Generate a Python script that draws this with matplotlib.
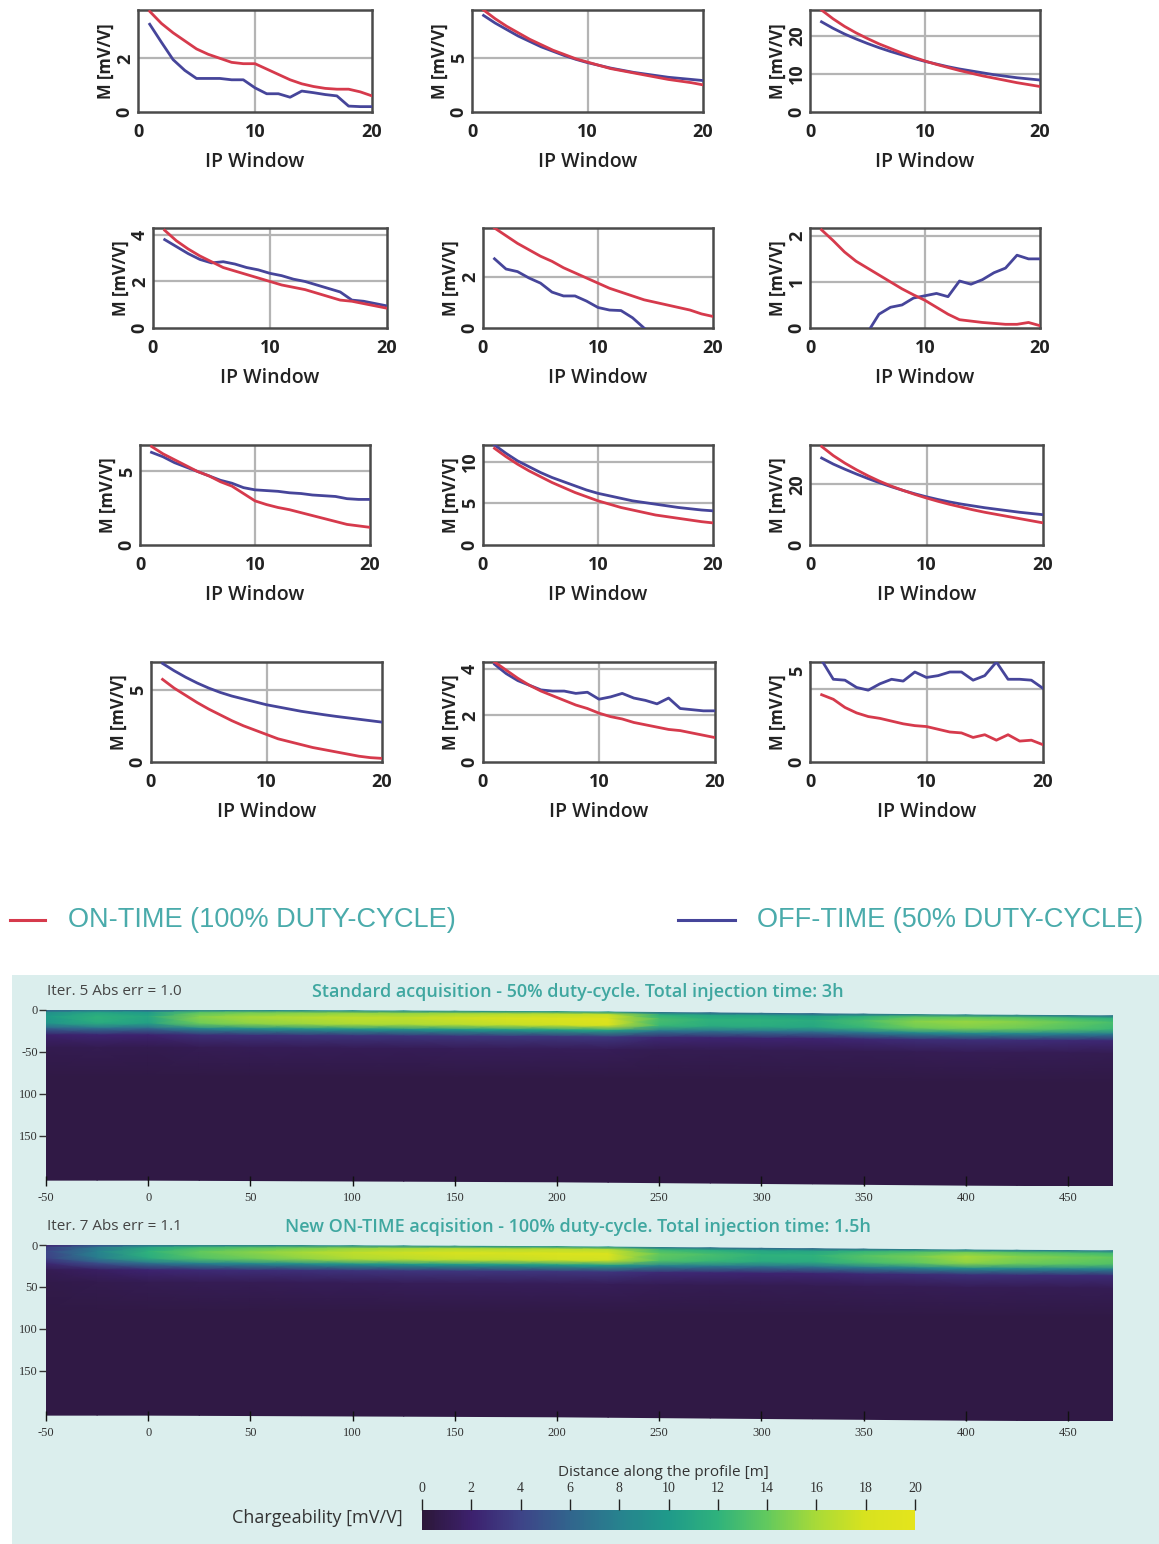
import numpy as np
import matplotlib
matplotlib.use("Agg")
import matplotlib.pyplot as plt
from matplotlib.colors import LinearSegmentedColormap
from matplotlib.patches import Rectangle

# ---------------- data ----------------
ip_window = list(range(1, 21))

# row 1
on_11 = [3.75, 3.3, 2.95, 2.65, 2.35, 2.15, 2.0, 1.85, 1.8, 1.8, 1.6, 1.4, 1.2, 1.05, 0.95, 0.88, 0.85, 0.85, 0.75, 0.6]
off_11 = [3.27, 2.6, 1.95, 1.55, 1.25, 1.25, 1.25, 1.2, 1.2, 0.9, 0.68, 0.68, 0.55, 0.78, 0.72, 0.65, 0.6, 0.22, 0.2, 0.2]
on_12 = [9.4, 8.6, 7.9, 7.3, 6.7, 6.2, 5.7, 5.3, 4.9, 4.6, 4.3, 4.0, 3.8, 3.6, 3.4, 3.2, 3.0, 2.85, 2.7, 2.5]
off_12 = [8.9, 8.2, 7.6, 7.0, 6.5, 6.0, 5.6, 5.2, 4.85, 4.55, 4.3, 4.05, 3.85, 3.65, 3.5, 3.35, 3.2, 3.1, 3.0, 2.9]
on_13 = [26.8, 24.5, 22.5, 20.8, 19.3, 17.9, 16.7, 15.5, 14.4, 13.4, 12.5, 11.7, 10.9, 10.2, 9.5, 8.9, 8.3, 7.7, 7.2, 6.7]
off_13 = [23.7, 22.0, 20.5, 19.2, 18.0, 16.9, 15.9, 15.0, 14.1, 13.3, 12.6, 11.9, 11.3, 10.8, 10.3, 9.8, 9.4, 9.0, 8.7, 8.4]
# row 2
on_21 = [4.2, 3.75, 3.4, 3.1, 2.85, 2.6, 2.45, 2.3, 2.15, 2.0, 1.85, 1.75, 1.65, 1.5, 1.35, 1.2, 1.15, 1.05, 0.95, 0.85]
off_21 = [3.8, 3.5, 3.2, 2.95, 2.8, 2.85, 2.75, 2.6, 2.5, 2.35, 2.25, 2.1, 2.0, 1.85, 1.7, 1.55, 1.2, 1.15, 1.05, 0.95]
on_22 = [3.9, 3.6, 3.3, 3.05, 2.8, 2.6, 2.35, 2.15, 1.95, 1.75, 1.55, 1.4, 1.25, 1.1, 1.0, 0.9, 0.8, 0.7, 0.55, 0.45]
off_22 = [2.7, 2.3, 2.2, 1.95, 1.75, 1.4, 1.25, 1.25, 1.05, 0.8, 0.7, 0.68, 0.4, 0.0, -0.4, -0.6, -0.8, -1.0, -1.1, -1.2]
on_23 = [2.13, 1.9, 1.65, 1.45, 1.3, 1.15, 1.0, 0.85, 0.72, 0.6, 0.45, 0.3, 0.18, 0.15, 0.12, 0.1, 0.08, 0.08, 0.12, 0.05]
off_23 = [-1.0, -0.8, -0.6, -0.4, -0.1, 0.3, 0.45, 0.5, 0.65, 0.7, 0.75, 0.68, 1.02, 0.95, 1.05, 1.2, 1.3, 1.58, 1.5, 1.5]
# row 3
on_31 = [6.7, 6.2, 5.8, 5.4, 5.0, 4.7, 4.3, 4.0, 3.5, 3.0, 2.75, 2.55, 2.4, 2.2, 2.0, 1.8, 1.6, 1.4, 1.3, 1.2]
off_31 = [6.3, 6.0, 5.6, 5.3, 5.0, 4.7, 4.4, 4.2, 3.9, 3.75, 3.7, 3.65, 3.55, 3.5, 3.4, 3.35, 3.3, 3.15, 3.1, 3.1]
on_32 = [11.6, 10.6, 9.7, 8.9, 8.2, 7.5, 6.9, 6.3, 5.8, 5.3, 4.9, 4.5, 4.2, 3.9, 3.6, 3.4, 3.2, 3.0, 2.8, 2.65]
off_32 = [12.0, 11.0, 10.1, 9.4, 8.7, 8.1, 7.6, 7.1, 6.6, 6.2, 5.9, 5.6, 5.3, 5.1, 4.9, 4.7, 4.5, 4.35, 4.2, 4.1]
on_33 = [32.5, 29.5, 27.0, 24.8, 22.8, 21.0, 19.4, 18.0, 16.7, 15.5, 14.4, 13.4, 12.5, 11.6, 10.8, 10.1, 9.4, 8.7, 8.0, 7.3]
off_33 = [28.7, 26.7, 25.0, 23.4, 21.9, 20.5, 19.2, 18.0, 16.9, 15.9, 15.0, 14.2, 13.5, 12.9, 12.3, 11.8, 11.3, 10.8, 10.4, 10.0]
# row 4
on_41 = [5.7, 5.1, 4.6, 4.1, 3.65, 3.25, 2.85, 2.5, 2.2, 1.9, 1.6, 1.4, 1.2, 1.0, 0.85, 0.7, 0.55, 0.4, 0.3, 0.25]
off_41 = [6.8, 6.3, 5.85, 5.45, 5.1, 4.8, 4.55, 4.35, 4.15, 3.95, 3.8, 3.65, 3.5, 3.38, 3.26, 3.15, 3.05, 2.95, 2.85, 2.75]
on_42 = [4.3, 3.95, 3.6, 3.3, 3.05, 2.85, 2.65, 2.45, 2.3, 2.1, 1.95, 1.85, 1.7, 1.6, 1.5, 1.4, 1.35, 1.25, 1.15, 1.05]
off_42 = [4.2, 3.8, 3.5, 3.3, 3.1, 3.05, 3.05, 2.95, 3.0, 2.7, 2.8, 2.95, 2.75, 2.65, 2.5, 2.75, 2.3, 2.25, 2.2, 2.2]
on_43 = [3.7, 3.45, 3.0, 2.7, 2.5, 2.4, 2.25, 2.1, 2.0, 1.95, 1.8, 1.65, 1.6, 1.35, 1.5, 1.2, 1.5, 1.15, 1.2, 0.95]
off_43 = [5.6, 4.55, 4.5, 4.1, 3.95, 4.3, 4.55, 4.45, 4.95, 4.65, 4.75, 4.95, 4.95, 4.5, 4.75, 5.5, 4.55, 4.55, 4.5, 4.05]

on_series = [on_11, on_12, on_13, on_21, on_22, on_23, on_31, on_32, on_33, on_41, on_42, on_43]
off_series = [off_11, off_12, off_13, off_21, off_22, off_23, off_31, off_32, off_33, off_41, off_42, off_43]
y_max = [3.8, 9.4, 26.8, 4.3, 3.9, 2.17, 6.8, 12.0, 33.0, 6.9, 4.3, 5.5]
y_ticks = [[0, 2], [0, 5], [0, 10, 20], [0, 2, 4], [0, 2], [0, 1, 2],
           [0, 5], [0, 5, 10], [0, 20], [0, 5], [0, 2, 4], [0, 5]]
y_grid = [[2], [5], [10, 20], [2, 4], [2], [1, 2],
          [5], [5, 10], [20], [5], [2, 4], [4]]
x_ticks = [0, 10, 20]

# inversion sections
dist = [-50, -25, 0, 25, 50, 75, 100, 125, 150, 175, 200, 225, 250, 275, 300, 325, 350, 375, 400, 425, 450, 472]
surf_std = [10, 12, 11, 15, 16, 16.5, 17, 17, 17.5, 18, 18.5, 19, 13, 12, 12, 11.5, 13, 15, 15.5, 15, 14, 13]
surf_new = [4, 8, 12, 14, 15, 16, 17, 17.5, 18, 18, 18.5, 18.5, 14, 13, 12, 12, 13.5, 14.5, 16, 15, 14.5, 14]
topo_x = [-50, 0, 100, 200, 300, 400, 472]
topo_depth = [0, 0, 1, 2, 4, 6, 7]
depth_nodes = [0, 3, 8, 16, 22, 30, 45, 80, 203]
depth_weight = [0.5, 0.9, 1.0, 0.95, 0.55, 0.15, 0.04, 0.0, 0.0]
background_m = 0.5
cbar_ticks = [0, 2, 4, 6, 8, 10, 12, 14, 16, 18, 20]
dist_ticks = [-50, 0, 50, 100, 150, 200, 250, 300, 350, 400, 450]
depth_ticks = [0, 50, 100, 150]
depth_labels_std = ["0", "-50", "100", "150"]
depth_labels_new = ["0", "50", "100", "150"]

# ---------------- style ----------------
W, H, DPI = 1159, 1544, 100
RED = "#d63a4c"
BLUE = "#46459a"
TEAL = "#4aabab"
FRAME = "#4a4a4a"
GRID = "#b4b4b4"
TXT = "#222222"

fig = plt.figure(figsize=(W / DPI, H / DPI), dpi=DPI)
fig.patch.set_facecolor("white")


def px(x0, y0, x1, y1):
    return [x0 / W, 1 - y1 / H, (x1 - x0) / W, (y1 - y0) / H]


rows_y = [(10, 112), (228, 328), (445, 545), (662, 762)]
cols_x = [[(138, 372), (472, 703), (810, 1040)],
          [(153, 387), (483, 713), (810, 1040)],
          [(140, 370), (483, 713), (810, 1043)],
          [(151, 382), (483, 715), (810, 1043)]]

tick_font = dict(family=["Open Sans", "DejaVu Sans"], weight="bold", size=13)

for i in range(12):
    r, c = divmod(i, 3)
    y0, y1 = rows_y[r]
    x0, x1 = cols_x[r][c]
    ax = fig.add_axes(px(x0, y0, x1, y1))
    ax.axvline(10, color=GRID, lw=1.6, zorder=1)
    for g in y_grid[i]:
        ax.axhline(g, color=GRID, lw=1.6, zorder=1)
    ax.plot(ip_window, off_series[i], color=BLUE, lw=2.0, zorder=3)
    ax.plot(ip_window, on_series[i], color=RED, lw=2.0, zorder=4)
    ax.set_xlim(0, 20)
    ax.set_ylim(0, y_max[i])
    ax.set_xticks(x_ticks)
    ax.set_yticks(y_ticks[i])
    ax.set_xticklabels([str(t) for t in x_ticks], fontdict=tick_font, color=TXT)
    ax.set_yticklabels([str(t) for t in y_ticks[i]], fontdict=tick_font, color=TXT,
                       rotation=90, va="center")
    ax.tick_params(axis="x", length=0, pad=8)
    ax.tick_params(axis="y", length=0, pad=3)
    for s in ax.spines.values():
        s.set_color(FRAME)
        s.set_linewidth(1.8)
    ax.set_xlabel("IP Window", family=["Open Sans", "DejaVu Sans"], weight="semibold",
                  size=14, color=TXT, labelpad=8)
    ax.set_ylabel("M [mV/V]", family=["Open Sans", "DejaVu Sans"], weight="bold",
                  size=12, color=TXT, labelpad=1)

# ---------------- legend ----------------
leg_font = dict(family=["Liberation Sans", "DejaVu Sans"], size=19.5, color=TEAL)
fig.add_artist(plt.Line2D([10 / W, 45 / W], [1 - 920 / H] * 2, color=RED, lw=2.2))
fig.text(68 / W, 1 - 920 / H, "ON-TIME (100% DUTY-CYCLE)", va="center", ha="left", **leg_font)
fig.add_artist(plt.Line2D([678 / W, 735 / W], [1 - 920 / H] * 2, color=BLUE, lw=2.2))
fig.text(757 / W, 1 - 920 / H, "OFF-TIME (50% DUTY-CYCLE)", va="center", ha="left", **leg_font)

# ---------------- bottom panel ----------------
fig.add_artist(Rectangle((12 / W, 0), 1 - 12 / W, 1 - 975 / H, transform=fig.transFigure,
                         facecolor="#dbeeed", edgecolor="none", zorder=0))

cmap = LinearSegmentedColormap.from_list(
    "charge", ["#2c1739", "#3d216e", "#3e4488", "#31658d", "#27828e", "#1f9a8a",
               "#2fb27c", "#62c95e", "#a8da38", "#d8e21f", "#e4e41c"])

dist_a = np.array(dist, dtype=float)
topo = np.interp(dist_a, topo_x, topo_depth)
Xg, Zg = np.meshgrid(dist_a, np.array(depth_nodes, dtype=float))
Zg = Zg + topo[None, :]
serif = dict(family=["Liberation Serif", "DejaVu Serif"], size=9, color="#333333")

mesh = None
for surf, (ty0, ty1), ylabels, header, title in [
        (surf_std, (1010, 1186), depth_labels_std, "Iter. 5 Abs err = 1.0",
         "Standard acquisition - 50% duty-cycle. Total injection time: 3h"),
        (surf_new, (1245, 1421), depth_labels_new, "Iter. 7 Abs err = 1.1",
         "New ON-TIME acqisition - 100% duty-cycle. Total injection time: 1.5h")]:
    M = background_m + np.outer(depth_weight, np.array(surf) - background_m)
    ax = fig.add_axes(px(46, ty0, 1113, ty1))
    ax.set_facecolor("none")
    mesh = ax.pcolormesh(Xg, Zg, M, shading="gouraud", cmap=cmap, vmin=0, vmax=20)
    ax.set_xlim(-50, 472)
    ax.set_ylim(210, 0)
    for s in ax.spines.values():
        s.set_visible(False)
    ax.set_xticks(dist_ticks)
    ax.set_xticklabels([str(t) for t in dist_ticks], fontdict=serif)
    ax.set_yticks(depth_ticks)
    ax.set_yticklabels(ylabels, fontdict=serif)
    ax.tick_params(axis="x", direction="in", length=7, color="#111111", pad=4, width=1)
    ax.tick_params(axis="y", direction="out", length=5, color="#333333", pad=1, width=1)
    fig.text(47 / W, 1 - (ty0 - 18) / H, header, ha="left", va="center",
             family=["Open Sans", "DejaVu Sans"], size=11, color="#444444")
    fig.text(578 / W, 1 - (ty0 - 18) / H, title, ha="center", va="center",
             family=["Open Sans", "DejaVu Sans"], weight="semibold", size=13, color="#3fa7a0")

fig.text(663 / W, 1 - 1472 / H, "Distance along the profile [m]", ha="center", va="center",
         family=["Open Sans", "DejaVu Sans"], size=11, color="#333333")

cax = fig.add_axes(px(422, 1510, 915, 1530))
cb = fig.colorbar(mesh, cax=cax, orientation="horizontal", ticks=cbar_ticks)
cb.outline.set_visible(False)
cax.xaxis.set_ticks_position("top")
cax.set_xticklabels([str(t) for t in cbar_ticks], fontdict=dict(serif, size=10))
cax.tick_params(axis="x", direction="out", length=8, color="#222222", pad=3, width=1)
fig.text(403 / W, 1 - 1518 / H, "Chargeability [mV/V]", ha="right", va="center",
         family=["Open Sans", "DejaVu Sans"], size=13, color="#333333")

fig.savefig("out.png", dpi=DPI)
